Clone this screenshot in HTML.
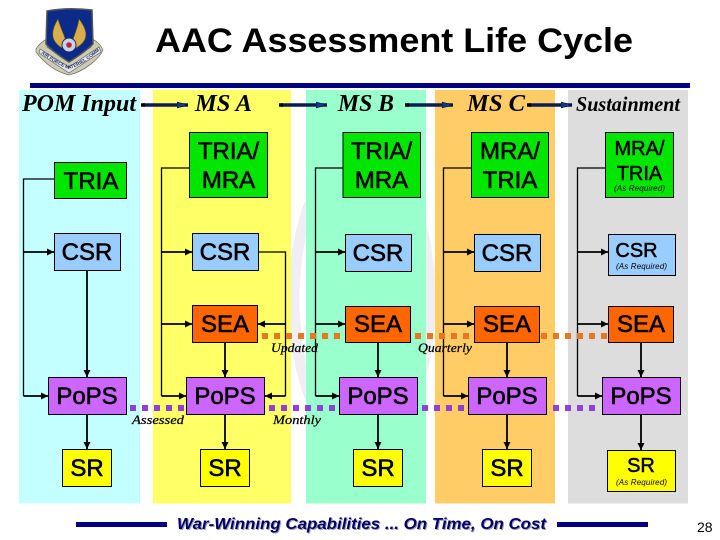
<!DOCTYPE html>
<html><head><meta charset="utf-8"><style>html,body{margin:0;padding:0;background:#fff}svg{display:block}</style></head>
<body><svg xmlns="http://www.w3.org/2000/svg" width="720" height="540" viewBox="0 0 720 540">
<defs>
<marker id="a" markerUnits="userSpaceOnUse" markerWidth="10" markerHeight="10" refX="7" refY="5" orient="auto"><path d="M0 1.500L7 5L0 8.500Z" fill="#000"/></marker>
<marker id="t" markerUnits="userSpaceOnUse" markerWidth="12" markerHeight="10" refX="11" refY="5" orient="auto"><path d="M0 2L11 5L0 8Z" fill="#123a8c" stroke="#000" stroke-width=".5"/></marker>
<path id="bn" d="M41 53Q56 65 69 69Q83 65 99 51"/>
</defs>
<rect width="720" height="540" fill="#fff"/>
<!-- watermark -->
<ellipse cx="362" cy="300" rx="68" ry="150" fill="none" stroke="#efeff3" stroke-width="11"/>
<!-- columns -->
<rect x="19" y="90" width="121" height="413.500" fill="#c4ffff"/>
<rect x="153" y="90" width="138" height="413.500" fill="#ffff66"/>
<rect x="306" y="90" width="120" height="413.500" fill="#99ffcc"/>
<rect x="435" y="90" width="120" height="413.500" fill="#ffcc66"/>
<rect x="568" y="90" width="120" height="413.500" fill="#dddddd"/>
<rect x="30" y="83" width="660" height="5" fill="#000080"/>
<!-- logo -->
<g>
<path d="M36 49C39 44 43 41 47 39L47 47L69 62L91 47L91 39C96 40 100 44 103 50C99 59 85 71 69 75C53 71 42 60 36 52Z" fill="#cfcbb0" stroke="#77776a" stroke-width=".8"/>
<path d="M40 49L69 67L99 47L101 52L69 73L39 53Z" fill="#e4e6ec" stroke="#555b70" stroke-width=".6"/>
<text font-family="Liberation Sans, sans-serif" font-size="4.800" font-weight="bold" fill="#2b3560"><textPath href="#bn">AIR FORCE MATERIEL COMMAND</textPath></text>
<path d="M47 11Q68 7 92 10L93 44Q85 52 69 62Q53 52 46 44Z" fill="#0b2a8a" stroke="#55584f" stroke-width="1.500"/>
<path d="M66 50C55 45 47 37 58 19C60 27 65 36 66 42Z" fill="#d8ae4a" stroke="#6a5520" stroke-width=".6"/>
<path d="M72 50C83 45 93 37 79 19C78 27 74 36 72 42Z" fill="#d8ae4a" stroke="#6a5520" stroke-width=".6"/>
<circle cx="69" cy="45" r="7" fill="#c9d2e8" stroke="#1a2a60"/><circle cx="69" cy="45" r="2.800" fill="#b5283a"/>
</g>
<!-- title -->
<text x="155" y="52" font-family="Liberation Sans, sans-serif" font-size="34" font-weight="bold" textLength="478" lengthAdjust="spacingAndGlyphs">AAC Assessment Life Cycle</text>
<!-- headers -->
<g font-family="Liberation Serif, serif" font-style="italic" font-weight="bold" fill="#000">
<text x="22" y="111" font-size="24" textLength="114" lengthAdjust="spacingAndGlyphs">POM Input</text>
<text x="195" y="111" font-size="24" textLength="57" lengthAdjust="spacingAndGlyphs">MS A</text>
<text x="338" y="111" font-size="24" textLength="56" lengthAdjust="spacingAndGlyphs">MS B</text>
<text x="467" y="111" font-size="24" textLength="58" lengthAdjust="spacingAndGlyphs">MS C</text>
<text x="576" y="111" font-size="21" textLength="104" lengthAdjust="spacingAndGlyphs">Sustainment</text>
</g>
<!-- top arrows -->
<g fill="none">
<g stroke="#0b1c55" stroke-width="3.500">
<path d="M143 105H188" marker-end="url(#t)"/><path d="M281 105H327" marker-end="url(#t)"/><path d="M407 105H453" marker-end="url(#t)"/><path d="M529 105H572" marker-end="url(#t)"/>
</g>
<g stroke="#000" stroke-width="3.500"><path d="M141 105H145M279 105H283M405 105H409M527 105H531"/></g>
</g>
<!-- connectors -->
<g fill="none" stroke="#000" stroke-width="1.300">
<path d="M54 179H23.500V396"/>
<path d="M189 168H161.500V396"/>
<path d="M258 252H285.500V396"/>
<path d="M343 168H315.500V396"/>
<path d="M471 168H443.500V396"/>
<path d="M606 168H577.500V396"/>
</g>
<g fill="none" stroke="#000" stroke-width="1.800">
<path d="M23.500 252H54" marker-end="url(#a)"/><path d="M23.500 396H48" marker-end="url(#a)"/>
<path d="M161.500 252H192" marker-end="url(#a)"/><path d="M161.500 324H192" marker-end="url(#a)"/><path d="M161.500 396H186" marker-end="url(#a)"/>
<path d="M285.500 324H258" marker-end="url(#a)"/><path d="M285.500 396H265" marker-end="url(#a)"/>
<path d="M315.500 252H345" marker-end="url(#a)"/><path d="M315.500 324H345" marker-end="url(#a)"/><path d="M315.500 396H339" marker-end="url(#a)"/>
<path d="M443.500 252H474" marker-end="url(#a)"/><path d="M443.500 324H474" marker-end="url(#a)"/><path d="M443.500 396H468" marker-end="url(#a)"/>
<path d="M577.500 252H608" marker-end="url(#a)"/><path d="M577.500 324H608" marker-end="url(#a)"/><path d="M577.500 396H602" marker-end="url(#a)"/>
<path d="M87 270V377" marker-end="url(#a)"/><path d="M87 414V449" marker-end="url(#a)"/>
<path d="M225 342V377" marker-end="url(#a)"/><path d="M225 414V449" marker-end="url(#a)"/>
<path d="M378 342V377" marker-end="url(#a)"/><path d="M378 414V449" marker-end="url(#a)"/>
<path d="M507 342V377" marker-end="url(#a)"/><path d="M507 414V449" marker-end="url(#a)"/>
<path d="M641 342V377" marker-end="url(#a)"/><path d="M641 414V450" marker-end="url(#a)"/>
</g>
<!-- dotted -->
<g fill="none" stroke-width="6" stroke-dasharray="6 6">
<g stroke="#e87722"><path d="M262 336H340M415 336H469M541 336H608"/></g>
<g stroke="#9040d8"><path d="M130 408H184M269 408H335M422 408H464M553 408H595"/></g>
</g>
<!-- boxes -->
<g stroke="#000" stroke-width="1">
<g fill="#00e600">
<rect x="54.500" y="162.500" width="72" height="36"/>
<rect x="189.500" y="132.500" width="78" height="65"/>
<rect x="343" y="132.500" width="77.500" height="65"/>
<rect x="471.500" y="132.500" width="77" height="65"/>
<rect x="605.500" y="132.500" width="68" height="65"/>
</g>
<g fill="#99ccff">
<rect x="54.500" y="233.500" width="66" height="37"/>
<rect x="192.500" y="233.500" width="66" height="37"/>
<rect x="345.500" y="234.500" width="66" height="37"/>
<rect x="474.500" y="234.500" width="66" height="37"/>
<rect x="608.500" y="234.500" width="67" height="41"/>
</g>
<g fill="#ff6600">
<rect x="192.500" y="305.500" width="65" height="37"/>
<rect x="345.500" y="306.500" width="65" height="36"/>
<rect x="474.500" y="306.500" width="65" height="36"/>
<rect x="608.500" y="306.500" width="65" height="36"/>
</g>
<g fill="#cc66ff">
<rect x="48.500" y="377.500" width="78" height="37"/>
<rect x="186.500" y="377.500" width="78" height="37"/>
<rect x="339.500" y="377.500" width="78" height="37"/>
<rect x="468.500" y="377.500" width="78" height="37"/>
<rect x="602.500" y="377.500" width="78" height="37"/>
</g>
<g fill="#ffff00">
<rect x="62.500" y="449.500" width="49" height="37"/>
<rect x="200.500" y="449.500" width="49" height="37"/>
<rect x="353.500" y="449.500" width="49" height="37"/>
<rect x="482.500" y="449.500" width="49" height="37"/>
<rect x="607.500" y="450.500" width="68" height="41"/>
</g>
</g>
<!-- box labels -->
<g font-family="Liberation Sans, sans-serif" font-size="24" text-anchor="middle" fill="#000" stroke="#000" stroke-width=".6">
<text x="91" y="189">TRIA</text>
<text x="228.500" y="159">TRIA/</text><text x="228.500" y="188">MRA</text>
<text x="381.500" y="159">TRIA/</text><text x="381.500" y="188">MRA</text>
<text x="510" y="159">MRA/</text><text x="510" y="188">TRIA</text>
<text x="87" y="260">CSR</text><text x="225" y="260">CSR</text><text x="378" y="261">CSR</text><text x="507" y="261">CSR</text>
<text x="225" y="332">SEA</text><text x="378" y="332">SEA</text><text x="507" y="332">SEA</text><text x="641" y="332">SEA</text>
<text x="87" y="404">PoPS</text><text x="225" y="404">PoPS</text><text x="378" y="404">PoPS</text><text x="507" y="404">PoPS</text><text x="641" y="404">PoPS</text>
<text x="87" y="476">SR</text><text x="225" y="476">SR</text><text x="378" y="476">SR</text><text x="507" y="476">SR</text>
</g>
<g font-family="Liberation Sans, sans-serif" font-size="20" text-anchor="middle" fill="#000" stroke="#000" stroke-width=".5">
<text x="639.500" y="155">MRA/</text><text x="639.500" y="180">TRIA</text>
<text x="636.500" y="257">CSR</text>
<text x="641" y="472">SR</text>
</g>
<g font-family="Liberation Sans, sans-serif" font-size="8" font-style="italic" fill="#000">
<text x="614" y="191" textLength="51" lengthAdjust="spacing">(As Required)</text>
<text x="616" y="269" textLength="51" lengthAdjust="spacing">(As Required)</text>
<text x="616" y="485" textLength="51" lengthAdjust="spacing">(As Required)</text>
</g>
<g font-family="Liberation Serif, serif" font-size="13" font-style="italic" fill="#000" stroke="#000" stroke-width=".25">
<text x="271" y="352" textLength="47" lengthAdjust="spacingAndGlyphs">Updated</text>
<text x="132" y="424" textLength="52" lengthAdjust="spacingAndGlyphs">Assessed</text>
<text x="273" y="424" textLength="48" lengthAdjust="spacingAndGlyphs">Monthly</text>
<text x="418" y="352" textLength="54" lengthAdjust="spacingAndGlyphs">Quarterly</text>
</g>
<!-- footer -->
<rect x="76" y="522" width="91" height="5" fill="#000080"/>
<rect x="557" y="522" width="91" height="5" fill="#000080"/>
<text x="178" y="530" font-family="Liberation Sans, sans-serif" font-size="16" font-weight="bold" font-style="italic" fill="#9a9ab0" textLength="369" lengthAdjust="spacingAndGlyphs">War-Winning Capabilities ... On Time, On Cost</text>
<text x="177" y="529" font-family="Liberation Sans, sans-serif" font-size="16" font-weight="bold" font-style="italic" fill="#000066" textLength="369" lengthAdjust="spacingAndGlyphs">War-Winning Capabilities ... On Time, On Cost</text>
<text x="697" y="532" font-family="Liberation Sans, sans-serif" font-size="14" fill="#000">28</text>
</svg></body></html>
